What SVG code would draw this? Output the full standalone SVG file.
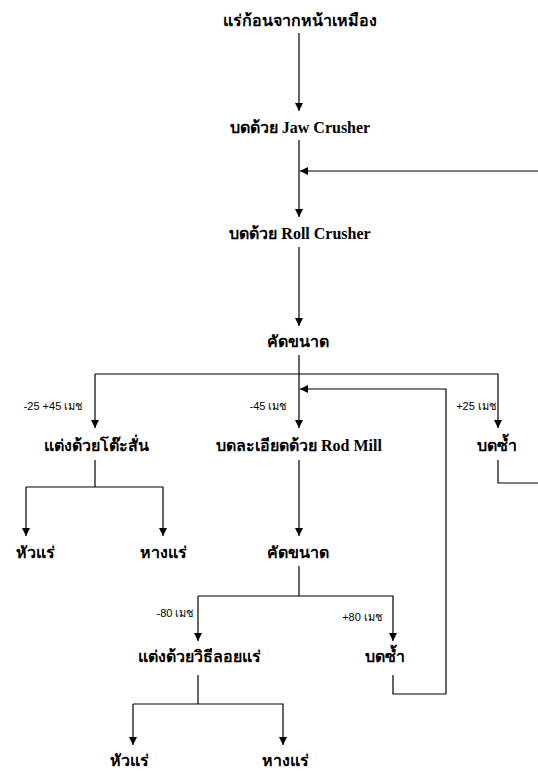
<svg xmlns="http://www.w3.org/2000/svg" width="538" height="772" viewBox="0 0 538 772">
<defs>
<marker id="ah" viewBox="0 0 10 10" refX="10" refY="5" markerWidth="8" markerHeight="8" markerUnits="userSpaceOnUse" orient="auto">
<path d="M0,0 L10,5 L0,10 z" fill="#000"/>
</marker>
<style>
.n{font-family:"Liberation Serif","Times New Roman",serif;font-size:16px;font-weight:bold;fill:#000;text-anchor:middle}
.l{font-family:"Liberation Sans",Arial,sans-serif;font-size:11px;fill:#000;text-anchor:middle}
.c{fill:none;stroke:#000;stroke-width:1.2}
.a{marker-end:url(#ah)}
</style>
</defs>
<rect width="538" height="772" fill="#fff"/>
<g id="connectors">
<path class="c a" d="M299,33 V111"/>
<path class="c a" d="M299,140 V217"/>
<path class="c a" d="M538,171 H300"/>
<path class="c a" d="M299,247 V326"/>
<path class="c" d="M299,355 V374"/>
<path class="c a" d="M299,374 V428"/>
<path class="c a" d="M95,374 H498 V428"/>
<path class="c a" d="M95,374 V428"/>
<path class="c a" d="M446,694 V389 H300"/>
<path class="c" d="M498,460 V483 H538"/>
<path class="c" d="M95,460 V487"/>
<path class="c a" d="M26,487 H163 V536"/>
<path class="c a" d="M26,487 V536"/>
<path class="c a" d="M299,460 V536"/>
<path class="c" d="M299,566 V596"/>
<path class="c a" d="M198,596 H393 V641"/>
<path class="c a" d="M198,596 V641"/>
<path class="c" d="M393,675 V694 H446"/>
<path class="c" d="M198,675 V704"/>
<path class="c a" d="M133,704 H283 V745"/>
<path class="c a" d="M133,704 V745"/>
</g>
<g id="labels">
<text class="l" x="53" y="410">-25 +45 เมช</text>
<text class="l" x="268" y="410">-45 เมช</text>
<text class="l" x="476" y="410">+25 เมช</text>
<text class="l" x="175" y="617">-80 เมช</text>
<text class="l" x="362" y="621">+80 เมช</text>
</g>
<g id="n1"><text class="n" x="300" y="26">แร่ก้อนจากหน้าเหมือง</text></g>
<g id="n2"><text class="n" x="300" y="133">บดด้วย Jaw Crusher</text></g>
<g id="n3"><text class="n" x="300" y="239">บดด้วย Roll Crusher</text></g>
<g id="n4"><text class="n" x="298" y="347">คัดขนาด</text></g>
<g id="n5"><text class="n" x="96" y="451">แต่งด้วยโต๊ะสั่น</text></g>
<g id="n6"><text class="n" x="299" y="451">บดละเอียดด้วย Rod Mill</text></g>
<g id="n7"><text class="n" x="497" y="451">บดซ้ำ</text></g>
<g id="n8"><text class="n" x="35" y="558">หัวแร่</text></g>
<g id="n9"><text class="n" x="163" y="558">หางแร่</text></g>
<g id="n10"><text class="n" x="298" y="558">คัดขนาด</text></g>
<g id="n11"><text class="n" x="199" y="662">แต่งด้วยวิธีลอยแร่</text></g>
<g id="n12"><text class="n" x="385" y="662">บดซ้ำ</text></g>
<g id="n13"><text class="n" x="129" y="766">หัวแร่</text></g>
<g id="n14"><text class="n" x="285" y="766">หางแร่</text></g>
</svg>
